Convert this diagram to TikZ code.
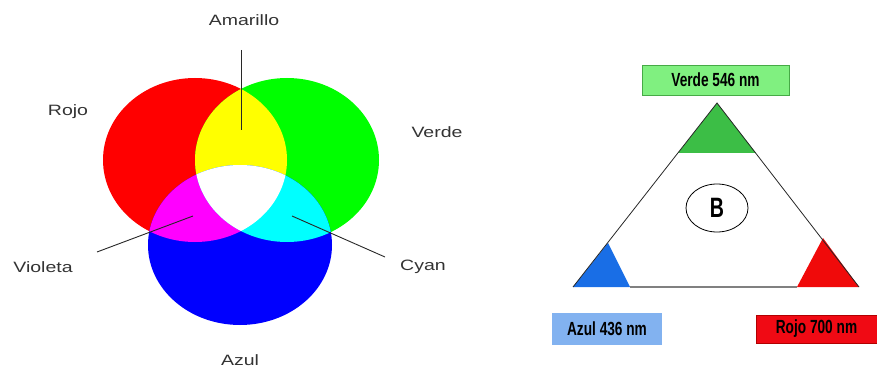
\documentclass[tikz,border=0pt]{standalone}
\usepackage{fontspec}
\setmainfont{Liberation Sans}
\usepackage{tikz}
\usetikzlibrary{shapes.geometric, positioning, calc}
\definecolor{purered}{RGB}{255,0,0}
\definecolor{puregreen}{RGB}{0,255,0}
\definecolor{pureblue}{RGB}{0,0,255}
\definecolor{pureyellow}{RGB}{255,255,0}
\definecolor{puremagenta}{RGB}{255,0,255}
\definecolor{purecyan}{RGB}{0,255,255}
\definecolor{capgreen}{RGB}{60,190,70}
\definecolor{capblue}{RGB}{25,110,230}
\definecolor{capred}{RGB}{240,10,10}
\definecolor{boxgreen}{RGB}{128,240,128}
\definecolor{boxgreenline}{RGB}{70,170,70}
\definecolor{boxblue}{RGB}{130,178,240}
\definecolor{boxred}{RGB}{240,10,20}
\definecolor{leader}{RGB}{40,40,40}
\newcommand{\venntext}[1]{\scalebox{1.3}[1]{\fontsize{15}{18}\selectfont #1}}
\newcommand{\nmtext}[1]{\scalebox{0.72}[1]{\fontsize{19}{22}\selectfont\bfseries #1}}
\tikzset{
  venn/.style={inner sep=1pt, text=black!80},
  leaderline/.style={color=leader, line width=0.9pt},
  nmbox/.style={rectangle, inner sep=0pt, text=black},
  side/.style={line width=0.8pt, color=black!85}
}

\begin{document}
\begin{tikzpicture}[x=1pt, y=-1pt]
  \useasboundingbox (0,0) rectangle (877,371);

  % Circles
  \fill[purered] (195,160) ellipse [x radius=92pt, y radius=82pt];
  \fill[puregreen] (287,160) ellipse [x radius=92pt, y radius=82pt];
  \fill[pureblue] (240,245) ellipse [x radius=92pt, y radius=80pt];
  % Mixtures
  \begin{scope}
    \clip (195,160) ellipse [x radius=92pt, y radius=82pt];
    \fill[pureyellow] (287,160) ellipse [x radius=92pt, y radius=82pt];
    \fill[puremagenta] (240,245) ellipse [x radius=92pt, y radius=80pt];
  \end{scope}
  \begin{scope}
    \clip (287,160) ellipse [x radius=92pt, y radius=82pt];
    \fill[purecyan] (240,245) ellipse [x radius=92pt, y radius=80pt];
    \clip (240,245) ellipse [x radius=92pt, y radius=80pt];
    \fill[white] (195,160) ellipse [x radius=92pt, y radius=82pt];
  \end{scope}

  % Labels
  \node[venn] (amarillo) at (244,20) {\venntext{Amarillo}};
  \node[venn] (rojo) at (68,112) {\venntext{Rojo}};
  \node[venn] (verde) at (437,132) {\venntext{Verde}};
  \node[venn] (violeta) at (43,267) {\venntext{Violeta}};
  \node[venn] (cyan) at (423,267) {\venntext{Cyan}};
  \node[venn] (azul) at (240,360) {\venntext{Azul}};
  \coordinate (amaTop) at (241,50);
  \coordinate (amaTip) at (241,130);
  \coordinate (vioEnd) at (97,252);
  \coordinate (vioTip) at (193,216);
  \coordinate (cyaEnd) at (385,257);
  \coordinate (cyaTip) at (292,216);
  \draw[leaderline] (amaTop) -- (amaTip);
  \draw[leaderline] (vioEnd) -- (vioTip);
  \draw[leaderline] (cyaEnd) -- (cyaTip);

  % Triangle
  \coordinate (apex) at (717,103);
  \coordinate (cornerB) at (573,287);
  \coordinate (cornerR) at (859,287);
  \fill[capgreen] (apex) -- (678,153) -- (756,153) -- cycle;
  \fill[capblue] (cornerB) -- (608,243) -- (630,287) -- cycle;
  \fill[capred] (cornerR) -- (823,238) -- (797,287) -- cycle;
  \draw[side] (cornerB) -- (apex) -- (cornerR);
  \draw[line width=2.5pt, color=black!50] (630,287) -- (797,287);
  \node[draw, ellipse, line width=0.8pt, minimum width=62pt, minimum height=48pt, inner sep=0pt] (bee) at (717,208) {\scalebox{0.7}[1]{\fontsize{28}{30}\selectfont\bfseries B}};

  % Wavelength boxes
  \node[nmbox, fill=boxgreen, draw=boxgreenline, line width=0.8pt, minimum width=147pt, minimum height=30pt] (vbox) at (715.5,80) {\nmtext{Verde 546 nm}};
  \node[nmbox, fill=boxblue, minimum width=110pt, minimum height=32pt] (abox) at (607,329) {\nmtext{Azul 436 nm}};
  \node[nmbox, fill=boxred, draw=red!70!black, line width=0.6pt, minimum width=121pt, minimum height=28pt] (rbox) at (816.5,329) {\nmtext{Rojo 700 nm}};
\end{tikzpicture}
\end{document}
